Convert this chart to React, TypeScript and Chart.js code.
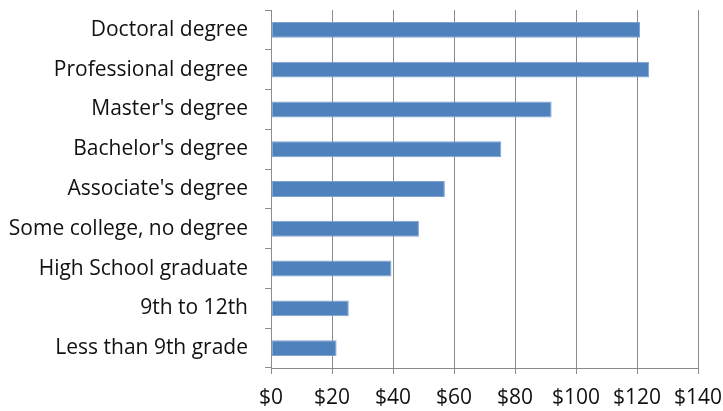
import React, { useEffect, useRef } from "react";
import { Chart, registerables } from "chart.js";

Chart.register(...registerables);

const categories = [
  "Doctoral degree",
  "Professional degree",
  "Master's degree",
  "Bachelor's degree",
  "Associate's degree",
  "Some college, no degree",
  "High School graduate",
  "9th to 12th",
  "Less than 9th grade",
];

const earnings = [121, 124, 92, 75.5, 57, 48.5, 39.5, 25.5, 21.5];

const xTicks = [0, 20, 40, 60, 80, 100, 120, 140];

const FONT = "'Open Sans', sans-serif";
const AXIS_GRAY = "#8a8a8a";

export default function App() {
  const canvasRef = useRef<HTMLCanvasElement | null>(null);

  useEffect(() => {
    document.body.style.margin = "0";
    const canvas = canvasRef.current;
    if (!canvas) return;
    const chart = new Chart(canvas, {
      type: "bar",
      data: {
        labels: categories,
        datasets: [
          {
            data: earnings,
            backgroundColor: "#4f81bd",
            borderColor: "#7ea2d2",
            borderWidth: 1,
            borderSkipped: false,
            barPercentage: 0.8,
            categoryPercentage: 0.5,
          },
        ],
      },
      options: {
        indexAxis: "y",
        responsive: false,
        animation: false,
        layout: { padding: { top: 10, right: 25, left: 0, bottom: 0 } },
        plugins: {
          legend: { display: false },
          tooltip: { enabled: false },
        },
        scales: {
          x: {
            min: 0,
            max: 140,
            afterBuildTicks: (scale: any) => {
              scale.ticks = xTicks.map((v) => ({ value: v }));
            },
            afterFit: (scale: any) => {
              scale.height = 43;
              scale.paddingLeft = 0;
              scale.paddingRight = 0;
            },
            border: { display: true, color: AXIS_GRAY, width: 1 },
            grid: {
              color: AXIS_GRAY,
              lineWidth: 1,
              drawTicks: true,
              tickLength: 6,
              tickColor: AXIS_GRAY,
            },
            ticks: {
              color: "#111111",
              padding: 11,
              maxRotation: 0,
              font: { family: FONT, size: 21 },
              callback: (v: any) => "$" + v,
            },
          },
          y: {
            afterFit: (scale: any) => {
              scale.width = 271;
              scale.paddingTop = 0;
              scale.paddingBottom = 0;
            },
            border: { display: true, color: AXIS_GRAY, width: 1 },
            grid: {
              offset: true,
              drawOnChartArea: false,
              drawTicks: true,
              tickLength: 6,
              tickColor: AXIS_GRAY,
            },
            ticks: {
              color: "#111111",
              padding: 17,
              font: { family: FONT, size: 21 },
            },
          },
        },
      },
    });
    return () => chart.destroy();
  }, []);

  return (
    <div style={{ width: 723, height: 411 }}>
      <canvas ref={canvasRef} width={723} height={411} />
    </div>
  );
}
